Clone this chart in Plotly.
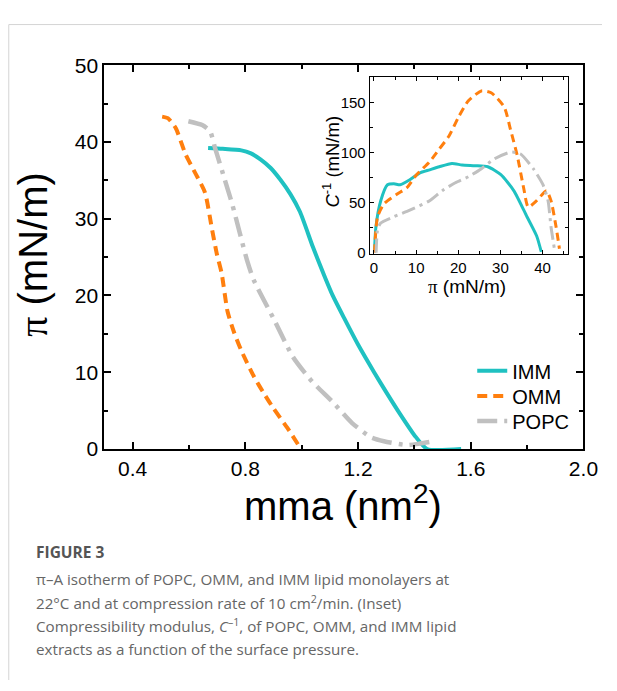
import plotly.graph_objects as go

# ---- main isotherm data (mma in nm^2, pi in mN/m) ----
imm_mma = [0.668, 0.72, 0.786, 0.82, 0.855, 0.89, 0.924, 0.96, 0.994, 1.04, 1.08, 1.11,
           1.15, 1.2, 1.257, 1.3, 1.35, 1.4, 1.445, 1.566]
imm_pi = [39.2, 39.1, 38.9, 38.5, 37.7, 36.6, 35.1, 33.2, 30.9, 26.3, 22.6, 20.0,
          17.1, 13.6, 10.0, 7.4, 4.5, 1.8, 0.0, 0.0]

omm_mma = [0.505, 0.525, 0.553, 0.588, 0.623, 0.657, 0.681, 0.699, 0.716, 0.737, 0.76,
           0.786, 0.831, 0.87, 0.9, 0.95, 0.994]
omm_pi = [43.3, 43.1, 41.8, 38.4, 35.9, 33.4, 28.8, 25.4, 22.9, 17.9, 15.2,
          12.8, 9.4, 7.0, 5.3, 2.7, 0.2]

popc_mma = [0.598, 0.647, 0.675, 0.692, 0.727, 0.755, 0.806, 0.83, 0.9, 0.969, 1.039,
            1.108, 1.178, 1.247, 1.292, 1.375, 1.42, 1.47]
popc_pi = [42.7, 42.2, 41.4, 39.3, 35.1, 31.7, 24.6, 22.0, 17.0, 12.0, 8.7,
           6.2, 3.4, 1.5, 1.0, 0.5, 0.7, 1.0]

# ---- inset: compressibility modulus C^-1 vs pi ----
imm_ins_pi = [0.1, 0.46, 1.6, 3.2, 4.7, 6.2, 8.5, 10.8, 13.2, 15.5, 18.5, 20.9, 23.9,
              27.0, 30.1, 33.2, 36.3, 38.6, 39.7]
imm_ins_c = [0.7, 26, 52, 68, 69, 68, 73, 79.6, 82.9, 86, 89.3, 87.7, 87,
             86, 78, 61.9, 36, 16.7, 0.7]

omm_ins_pi = [0.1, 0.85, 2.4, 5.5, 7.8, 10.1, 13.2, 15.5, 17.8, 20.1, 22.4, 25.5, 27.8,
              30.9, 32.4, 34.0, 35.5, 36.6, 38.6, 40.9, 42.0, 43.2, 44.0]
omm_ins_c = [0, 36, 49, 58.7, 65, 78, 91, 103.8, 116.7, 136, 152, 161.8, 160,
             145.7, 123, 97, 65, 45.7, 52, 62, 52, 26, 4]

popc_ins_pi = [0.5, 0.85, 1.6, 4.7, 8.5, 13.2, 16.2, 19.3, 22.4, 25.5, 28.6, 32.4, 34.7,
               37.8, 40.1, 41.3, 42.0, 42.8]
popc_ins_c = [0, 23, 29.7, 36, 42.5, 52, 62, 70, 76, 84, 94, 100.6, 99,
              84, 68, 52, 26, 4]

series_names = ["IMM", "OMM", "POPC"]
x_ticks = [0.4, 0.8, 1.2, 1.6, 2.0]
y_ticks = [0, 10, 20, 30, 40, 50]
inset_x_ticks = [0, 10, 20, 30, 40]
inset_y_ticks = [0, 50, 100, 150]

CYAN = "#1fc1c1"
ORANGE = "#ff7f0e"
GRAY = "#c0c0c0"
W, H = 617, 691
SANS = "Liberation Sans"

fig = go.Figure()
line_styles = [
    dict(color=CYAN, width=4, dash="solid"),
    dict(color=ORANGE, width=4, dash="10px,6px"),
    dict(color=GRAY, width=4.5, dash="20px,7px,4px,7px"),
]
legend_ids = ["legend", "legend2", "legend3"]
main_data = [(imm_mma, imm_pi), (omm_mma, omm_pi), (popc_mma, popc_pi)]
ins_data = [(imm_ins_pi, imm_ins_c), (omm_ins_pi, omm_ins_c), (popc_ins_pi, popc_ins_c)]

for name, (x, y), ls, lg in zip(series_names, main_data, line_styles, legend_ids):
    fig.add_trace(go.Scatter(x=x, y=y, mode="lines", name=name, legend=lg,
                             line=dict(**ls, shape="spline", smoothing=0.6),
                             xaxis="x", yaxis="y"))
for name, (x, y), ls in zip(series_names, ins_data, line_styles):
    ls2 = dict(ls)
    ls2["width"] = 3
    if ls["dash"] == "10px,6px":
        ls2["dash"] = "8px,5px"
    elif ls["dash"] != "solid":
        ls2["dash"] = "14px,5px,3px,5px"
    fig.add_trace(go.Scatter(x=x, y=y, mode="lines", name=name, showlegend=False,
                             line=dict(**ls2, shape="spline", smoothing=0.6),
                             xaxis="x2", yaxis="y2"))


def px_x(p):
    return p / W


def px_y(p):
    return 1 - p / H


main_axis_common = dict(showline=True, linecolor="black", linewidth=2, mirror="ticks",
                        ticks="inside", ticklen=7, tickwidth=2, tickcolor="black",
                        showgrid=False, zeroline=False,
                        tickfont=dict(family=SANS, size=21, color="black"))
inset_axis_common = dict(showline=True, linecolor="black", linewidth=1.2, mirror="ticks",
                         ticks="inside", ticklen=4, tickwidth=1.2, tickcolor="black",
                         showgrid=False, zeroline=False,
                         tickfont=dict(family=SANS, size=15, color="black"))

legend_common = dict(xanchor="left", yanchor="top", bgcolor="rgba(0,0,0,0)", borderwidth=0,
                     font=dict(family=SANS, size=20, color="black"))

fig.update_layout(
    width=W, height=H,
    margin=dict(l=0, r=0, t=0, b=0),
    paper_bgcolor="white", plot_bgcolor="white",
    xaxis=dict(domain=[px_x(107), px_x(598)], range=[0.3, 2.0], tickvals=x_ticks,
               ticktext=[f"{v:.1f}" for v in x_ticks], anchor="y",
               minor=dict(ticks="inside", ticklen=4, tickwidth=2, tickcolor="black", dtick=0.2, tick0=0.0),
               **main_axis_common),
    yaxis=dict(domain=[px_y(452), px_y(55)], range=[0, 50], tickvals=y_ticks, anchor="x",
               minor=dict(ticks="inside", ticklen=4, tickwidth=2, tickcolor="black", dtick=5, tick0=0),
               **main_axis_common),
    xaxis2=dict(domain=[px_x(379), px_x(582)], range=[-1, 46], tickvals=inset_x_ticks, anchor="y2",
                minor=dict(ticks="inside", ticklen=3, tickwidth=1.2, tickcolor="black", dtick=5, tick0=0),
                **inset_axis_common),
    yaxis2=dict(domain=[px_y(250), px_y(67)], range=[-1, 176], tickvals=inset_y_ticks, anchor="x2",
                minor=dict(ticks="inside", ticklen=3, tickwidth=1.2, tickcolor="black", dtick=25, tick0=0),
                **inset_axis_common),
    legend=dict(x=px_x(484), y=px_y(351), **legend_common),
    legend2=dict(x=px_x(484), y=px_y(377), **legend_common),
    legend3=dict(x=px_x(484), y=px_y(403), **legend_common),
    showlegend=True,
)

ann = []
# main axis titles
ann.append(dict(x=px_x(352), y=px_y(508), xref="paper", yref="paper", showarrow=False,
                text="mma (nm<sup>2</sup>)", xanchor="center", yanchor="middle",
                font=dict(family=SANS, size=40, color="black")))
ann.append(dict(x=px_x(34), y=px_y(251), xref="paper", yref="paper", showarrow=False,
                text="<span style='font-family:Liberation Serif'>π</span> (mN/m)", textangle=-90,
                xanchor="center", yanchor="middle",
                font=dict(family=SANS, size=40, color="black")))
# inset axis titles
ann.append(dict(x=px_x(479), y=px_y(284), xref="paper", yref="paper", showarrow=False,
                text="<span style='font-family:Liberation Serif'>π</span> (mN/m)",
                xanchor="center", yanchor="middle",
                font=dict(family=SANS, size=19, color="black")))
ann.append(dict(x=px_x(339), y=px_y(155), xref="paper", yref="paper", showarrow=False,
                text="<i>C</i><sup>-1</sup> (mN/m)", textangle=-90,
                xanchor="center", yanchor="middle",
                font=dict(family=SANS, size=18.5, color="black")))
# caption
cap_font = dict(family="Open Sans, Noto Sans", size=15.2, color="#666666")
ann.append(dict(x=px_x(35), y=px_y(559), xref="paper", yref="paper", showarrow=False,
                text="<b>FIGURE 3</b>", xanchor="left", yanchor="middle",
                font=dict(family="Open Sans, Noto Sans", size=15.5, color="#555555")))
cap_lines = [
    "π–A isotherm of POPC, OMM, and IMM lipid monolayers at",
    "22°C and at compression rate of 10 cm<sup>2</sup>/min. (Inset)",
    "Compressibility modulus, <i>C</i><sup>–1</sup>, of POPC, OMM, and IMM lipid",
    "extracts as a function of the surface pressure.",
]
for i, t in enumerate(cap_lines):
    ann.append(dict(x=px_x(35), y=px_y(587 + 24 * i), xref="paper", yref="paper", showarrow=False,
                    text=t, xanchor="left", yanchor="middle", font=cap_font))
fig.update_layout(annotations=ann)

# thin grey frame lines (top and left)
fig.add_shape(type="line", xref="paper", yref="paper", x0=px_x(9), x1=1, y0=px_y(13), y1=px_y(13),
              line=dict(color="#d4d4d4", width=1))
fig.add_shape(type="line", xref="paper", yref="paper", x0=px_x(9), x1=px_x(9), y0=px_y(13), y1=0,
              line=dict(color="#d4d4d4", width=1))

post = ("document.body.style.margin='0';document.body.style.padding='0';"
        "document.documentElement.style.overflow='hidden';"
        "var d=document.getElementById('{plot_id}');"
        "d.style.position='fixed';d.style.left='0px';d.style.top='0px';")
fig.write_html("out.html", config={"displayModeBar": False}, post_script=post)
